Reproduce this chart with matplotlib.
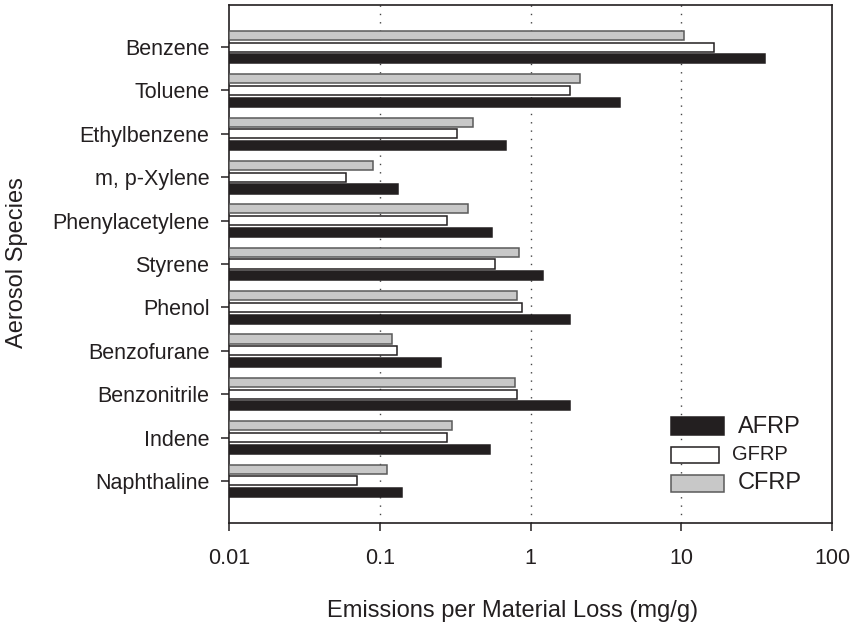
import matplotlib
matplotlib.use("Agg")
import matplotlib.pyplot as plt
import numpy as np
from matplotlib.patches import Rectangle

plt.rcParams['font.family'] = ['Liberation Sans', 'DejaVu Sans']

# Emission data (mg/g)
species = ["Benzene", "Toluene", "Ethylbenzene", "m, p-Xylene", "Phenylacetylene",
           "Styrene", "Phenol", "Benzofurane", "Benzonitrile", "Indene", "Naphthaline"]
afrp = [36, 3.94, 0.69, 0.132, 0.553, 1.21, 1.83, 0.254, 1.83, 0.537, 0.141]
gfrp = [16.4, 1.82, 0.323, 0.060, 0.281, 0.58, 0.875, 0.130, 0.814, 0.281, 0.0704]
cfrp = [10.4, 2.12, 0.414, 0.090, 0.383, 0.834, 0.81, 0.120, 0.785, 0.302, 0.111]
series_names = ["AFRP", "GFRP", "CFRP"]
xticks = [0.01, 0.1, 1, 10, 100]
xticklabels = ["0.01", "0.1", "1", "10", "100"]

dark = '#231f20'
grey = '#c8c8c8'
grey_edge = '#5a5a5a'

fig = plt.figure(figsize=(8.54, 6.27), dpi=100)
ax = fig.add_axes([229/854, 1-523/627, 603/854, 518/627])

y = np.arange(len(species))
off = 0.27
h = 0.21
base = 0.01

ax.barh(y - off, np.array(cfrp) - base, left=base, height=h, color=grey,
        edgecolor=grey_edge, linewidth=1.1, zorder=3)
ax.barh(y, np.array(gfrp) - base, left=base, height=h, color='white',
        edgecolor=dark, linewidth=1.1, zorder=3)
ax.barh(y + off, np.array(afrp) - base, left=base, height=h, color=dark,
        edgecolor=dark, linewidth=1.1, zorder=3)

ax.set_xscale('log')
ax.set_xlim(0.01, 100)
ax.set_ylim(10.97, -0.97)
ax.set_xticks(xticks)
ax.set_xticklabels(xticklabels)
ax.xaxis.set_minor_locator(matplotlib.ticker.NullLocator())
ax.set_yticks(y)
ax.set_yticklabels(species)

for v in [0.1, 1, 10]:
    ax.axvline(v, color='#444444', linestyle=(0, (1, 5)), linewidth=1.0, zorder=1)

for s in ax.spines.values():
    s.set_linewidth(1.2)
    s.set_color(dark)

ax.tick_params(axis='x', direction='out', length=6, width=1.1, pad=12,
               labelsize=15.5, colors=dark)
ax.tick_params(axis='y', direction='out', length=6, width=1.1, pad=8,
               labelsize=15.5, colors=dark)

fig.text(513/854, 1-611/627, "Emissions per Material Loss (mg/g)", fontsize=17,
         color=dark, ha='center', va='center')
fig.text(17/854, 1-263/627, "Aerosol Species", fontsize=17, color=dark,
         rotation=90, ha='center', va='center')

# legend drawn by hand (patch sizes and label sizes differ per row)
leg_rows = [
    (dark, dark, 0.0879, 0.1699, 0.0347, 0.844, 0.1853, 17),
    ('white', dark, 0.0796, 0.1158, 0.0309, 0.834, 0.1313, 14.5),
    (grey, grey_edge, 0.0879, 0.0598, 0.0328, 0.844, 0.0772, 17),
]
for name, (fc, ec, w, y0, hh, tx, ty, fs) in zip(series_names, leg_rows):
    ax.add_patch(Rectangle((0.733, y0), w, hh, transform=ax.transAxes,
                           facecolor=fc, edgecolor=ec, linewidth=1.1, zorder=4))
    ax.text(tx, ty, name, transform=ax.transAxes, fontsize=fs, color=dark,
            ha='left', va='center', zorder=4)

fig.savefig("out.png", dpi=100)
